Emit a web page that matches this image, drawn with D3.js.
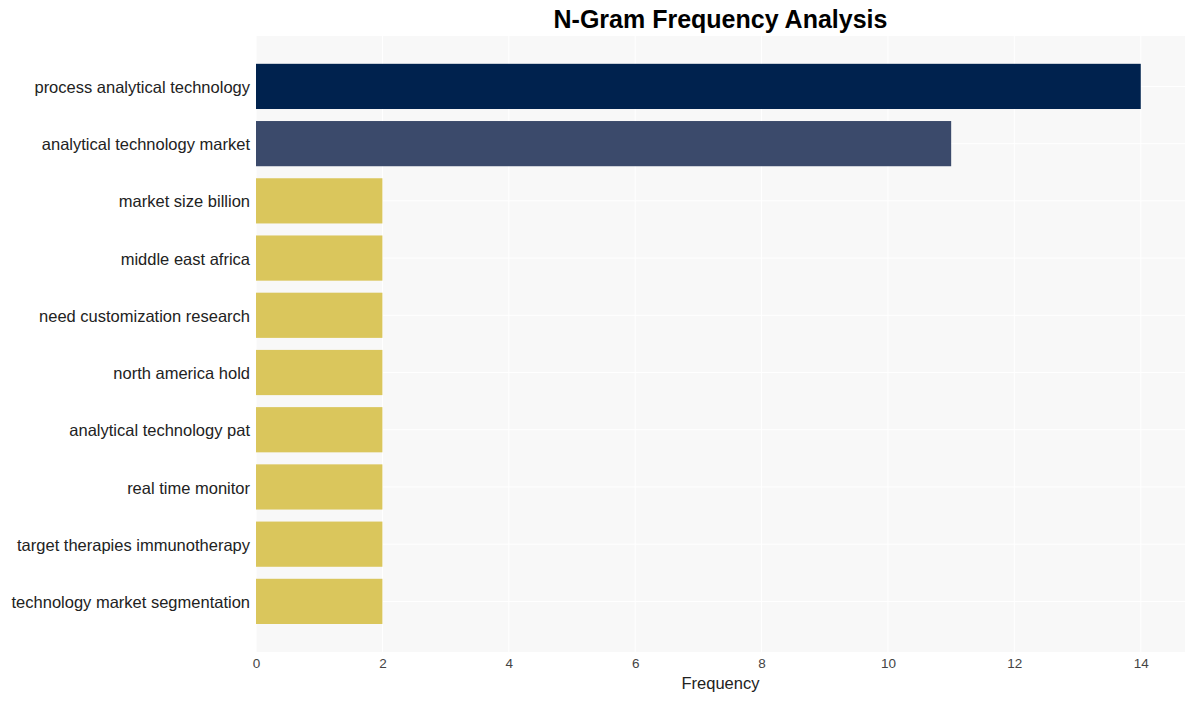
<!DOCTYPE html>
<html><head><meta charset="utf-8">
<script src="https://cdn.jsdelivr.net/npm/d3@7"></script>
<style>body{margin:0;background:#fff;font-family:"Liberation Sans",Arial,sans-serif;}</style>
</head><body><svg id="c" width="1195" height="701"></svg>
<script>
const categories = ["process analytical technology","analytical technology market","market size billion","middle east africa","need customization research","north america hold","analytical technology pat","real time monitor","target therapies immunotherapy","technology market segmentation"];
const values = [14,11,2,2,2,2,2,2,2,2];
const colors = ["#00224e","#3b4a6b","#dac65c","#dac65c","#dac65c","#dac65c","#dac65c","#dac65c","#dac65c","#dac65c"];
const xTicks = [0,2,4,6,8,10,12,14];

const svg = d3.select("#c");
const L=256, R=1185, T=36, B=652;
svg.append("rect").attr("x",L).attr("y",T).attr("width",R-L).attr("height",B-T).attr("fill","#f8f8f8");
const x = d3.scaleLinear().domain([0,14.7]).range([L,R]);
const y = d3.scaleBand().domain(categories).range([57.8,630]).paddingInner(0.21).paddingOuter(0.105);
// grid
svg.append("g").selectAll("line").data(xTicks).join("line")
 .attr("x1",d=>x(d)).attr("x2",d=>x(d)).attr("y1",T).attr("y2",B).attr("stroke","#fff").attr("stroke-width",1);
svg.append("g").selectAll("line").data(categories).join("line")
 .attr("x1",L).attr("x2",R).attr("y1",d=>y(d)+y.bandwidth()/2).attr("y2",d=>y(d)+y.bandwidth()/2).attr("stroke","#fff").attr("stroke-width",1);
// bars
svg.append("g").selectAll("rect").data(categories).join("rect")
 .attr("x",x(0)).attr("y",d=>y(d)).attr("height",y.bandwidth())
 .attr("width",(d,i)=>x(values[i])-x(0)).attr("fill",(d,i)=>colors[i]);
// y labels
svg.append("g").selectAll("text").data(categories).join("text")
 .attr("x",250).attr("y",d=>y(d)+y.bandwidth()/2).attr("dy","0.4em").attr("text-anchor","end")
 .attr("font-size",16.5).attr("fill","#222").text(d=>d);
// x axis
const xa = svg.append("g").attr("transform",`translate(0,${B})`).call(d3.axisBottom(x).tickValues(xTicks).tickSize(0).tickPadding(6));
xa.select(".domain").remove();
xa.selectAll("text").attr("font-size",13.5).attr("fill","#444").attr("font-family","Liberation Sans, Arial, sans-serif");
svg.append("text").attr("x",(L+R)/2).attr("y",689).attr("text-anchor","middle").attr("font-size",16.5).attr("fill","#222").text("Frequency");
svg.append("text").attr("x",(L+R)/2).attr("y",28).attr("text-anchor","middle").attr("font-size",25).attr("font-weight","bold").attr("fill","#000").text("N-Gram Frequency Analysis");
</script></body></html>
